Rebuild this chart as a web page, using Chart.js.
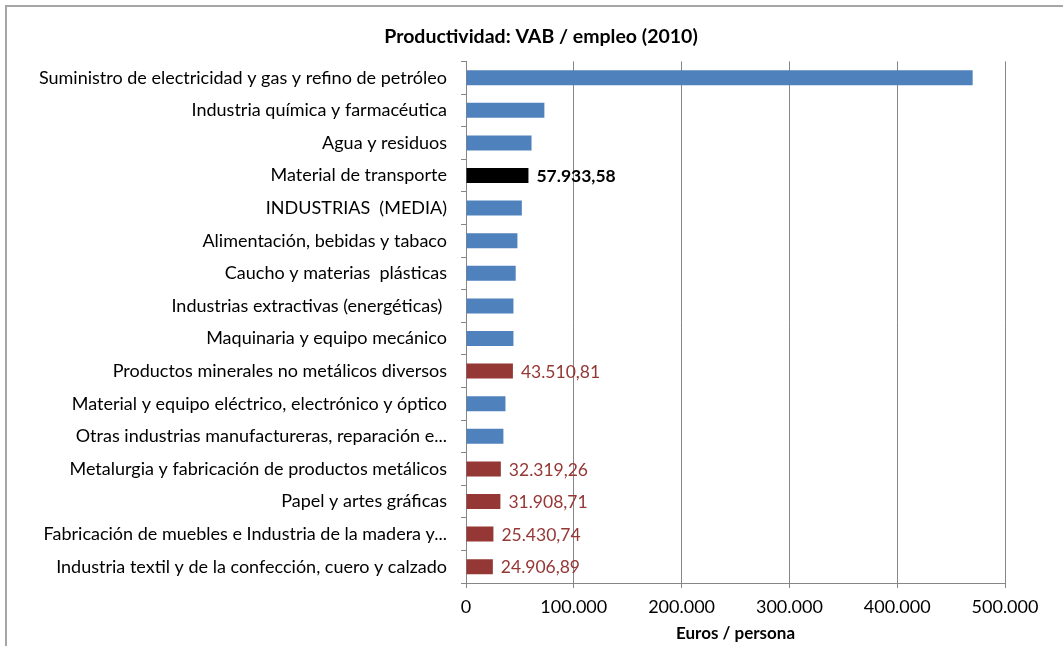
<!DOCTYPE html>
<html>
<head>
<meta charset="utf-8">
<script src="https://cdn.jsdelivr.net/npm/chart.js@4/dist/chart.umd.min.js"></script>
<style>
  html, body { margin: 0; padding: 0; background: #fff; overflow: hidden; }
  #wrap { position: relative; width: 1063px; height: 646px; }
  #frame {
    position: absolute; left: 5px; top: 5px; width: 1100px; height: 700px;
    border-top: 2px solid #a6a6a6; border-left: 2px solid #a6a6a6;
  }
  canvas { position: absolute; left: 0; top: 0; }
</style>
</head>
<body>
<div id="wrap">
  <div id="frame"></div>
  <canvas id="chart" width="1063" height="646"></canvas>
</div>
<script>
// sectores, de mayor a menor productividad
const sectores = [
  'Suministro de electricidad y gas y refino de petróleo',
  'Industria química y farmacéutica',
  'Agua y residuos',
  'Material de transporte',
  'INDUSTRIAS  (MEDIA)',
  'Alimentación, bebidas y tabaco',
  'Caucho y materias  plásticas',
  'Industrias extractivas (energéticas) ',
  'Maquinaria y equipo mecánico',
  'Productos minerales no metálicos diversos',
  'Material y equipo eléctrico, electrónico y óptico',
  'Otras industrias manufactureras, reparación e...',
  'Metalurgia y fabricación de productos metálicos',
  'Papel y artes gráficas',
  'Fabricación de muebles e Industria de la madera y...',
  'Industria textil y de la confección, cuero y calzado'
];

// VAB / empleo, euros por persona
const productividad = [
  470000, 72700, 60800, 57933.58, 51800, 47700, 46100, 44000,
  44000, 43510.81, 36600, 34700, 32319.26, 31908.71, 25430.74, 24906.89
];

// 'ref' = sector destacado, 'comp' = sectores comparados, '' = resto
const grupo = [
  '', '', '', 'ref', '', '', '', '',
  '', 'comp', '', '', 'comp', 'comp', 'comp', 'comp'
];

const ejeX = [0, 100000, 200000, 300000, 400000, 500000];

const azul = '#4f81bd';
const rojo = '#953735';
const negro = '#000000';
const gris = '#868686';
const fuente = 'Lato, "Open Sans", sans-serif';

function fmt(v, dec) {
  const p = v.toFixed(dec).split('.');
  p[0] = p[0].replace(/\B(?=(\d{3})+(?!\d))/g, '.');
  return dec ? p[0] + ',' + p[1] : p[0];
}

const colores = grupo.map(g => g === 'ref' ? negro : (g === 'comp' ? rojo : azul));

// etiquetas de valor para los sectores destacados
const valorLabels = {
  id: 'valorLabels',
  afterLayout(chart) {
    // deja que los nombres largos salgan a la izquierda sin recortarse
    chart.scales.y.left = 10;
  },
  afterDatasetsDraw(chart) {
    const ctx = chart.ctx;
    const meta = chart.getDatasetMeta(0);
    ctx.save();
    ctx.textBaseline = 'middle';
    ctx.textAlign = 'left';
    meta.data.forEach((bar, i) => {
      if (!grupo[i]) return;
      const ref = grupo[i] === 'ref';
      ctx.font = (ref ? 'bold ' : '') + '17.5px ' + fuente;
      ctx.fillStyle = ref ? negro : rojo;
      ctx.fillText(fmt(productividad[i], 2), bar.x + 8, bar.y + 1);
    });
    ctx.restore();
  }
};

new Chart(document.getElementById('chart'), {
  type: 'bar',
  data: {
    labels: sectores,
    datasets: [{
      data: productividad,
      backgroundColor: colores,
      borderWidth: 0,
      barPercentage: 0.46,
      categoryPercentage: 1
    }]
  },
  options: {
    indexAxis: 'y',
    responsive: false,
    animation: false,
    devicePixelRatio: 1,
    layout: { padding: { left: 77, right: 58, top: 0, bottom: 0 } },
    plugins: {
      legend: { display: false },
      tooltip: { enabled: false },
      title: {
        display: true,
        text: 'Productividad: VAB / empleo (2010)',
        color: '#000',
        font: { family: fuente, size: 19.5, weight: 'bold' },
        padding: { top: 25, bottom: 13 }
      }
    },
    scales: {
      x: {
        min: 0,
        max: 500000,
        afterBuildTicks(scale) {
          scale.ticks = ejeX.map(v => ({ value: v }));
        },
        afterFit(scale) { scale.height = 63; },
        grid: { color: gris, tickLength: 5, drawTicks: true },
        border: { color: gris },
        ticks: {
          color: '#000',
          padding: 8,
          font: { family: fuente, size: 18 },
          callback: v => fmt(v, 0)
        },
        title: {
          display: true,
          text: 'Euros / persona',
          color: '#000',
          font: { family: fuente, size: 17, weight: 'bold' },
          padding: { top: 2, bottom: 2 }
        }
      },
      y: {
        afterFit(scale) { scale.width = 466 - 77; },
        grid: { drawOnChartArea: false, drawTicks: true, tickLength: 5, color: gris, offset: true },
        border: { color: gris },
        ticks: {
          color: '#000',
          padding: 14,
          autoSkip: false,
          font: { family: fuente, size: 18 }
        }
      }
    }
  },
  plugins: [valorLabels]
});
</script>
</body>
</html>
